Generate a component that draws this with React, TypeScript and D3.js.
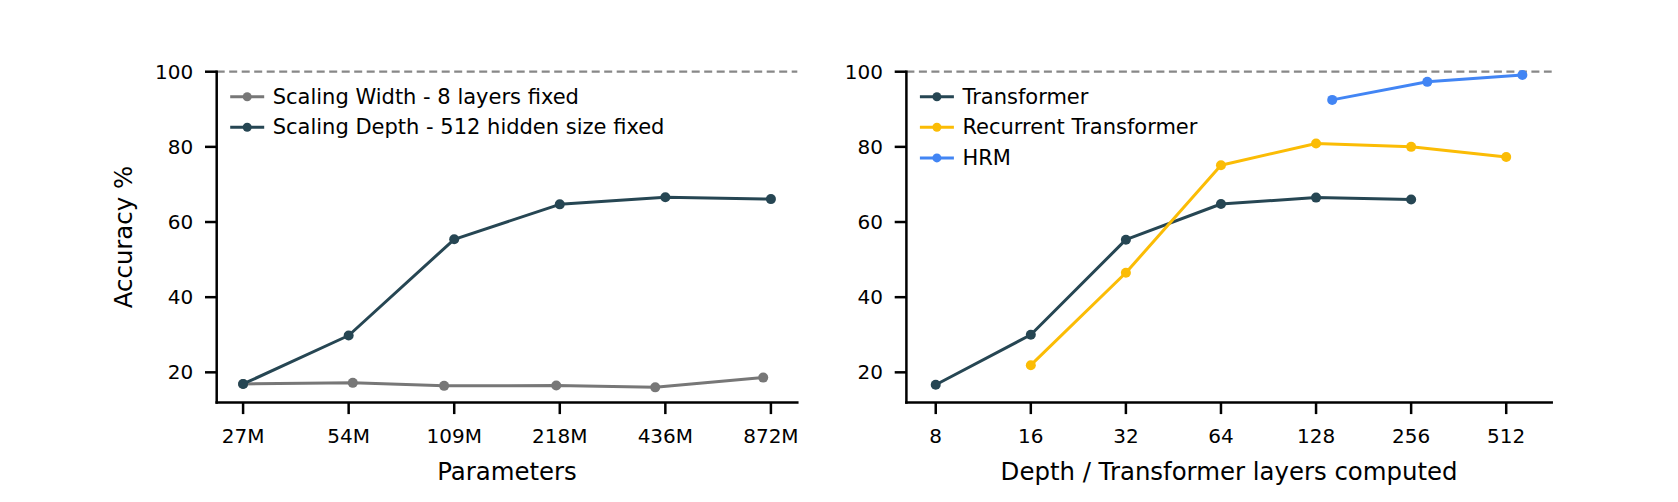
import React from "react";
import * as d3 from "d3";

// ---------- data ----------
const leftTickValues = [27.25, 54.5, 109, 218, 436, 872];
const leftTickLabels = ["27M", "54M", "109M", "218M", "436M", "872M"];

const widthParams = [27.25, 56, 102, 213, 408, 829];
const widthAcc = [16.9, 17.2, 16.4, 16.5, 16.0, 18.6];

const depthParams = [27.25, 54.5, 109, 218, 436, 872];
const depthAcc = [16.9, 29.8, 55.4, 64.7, 66.6, 66.1];

const rightTickValues = [8, 16, 32, 64, 128, 256, 512];
const rightTickLabels = ["8", "16", "32", "64", "128", "256", "512"];

const transformerLayers = [8, 16, 32, 64, 128, 256];
const transformerAcc = [16.7, 30.0, 55.3, 64.8, 66.5, 66.0];

const recurrentLayers = [16, 32, 64, 128, 256, 512];
const recurrentAcc = [21.9, 46.5, 75.1, 80.9, 80.0, 77.3];

const hrmLayers = [144, 288, 576];
const hrmAcc = [92.5, 97.3, 99.1];

const yTicks = [20, 40, 60, 80, 100];

// ---------- style ----------
const W = 1678;
const H = 502;
const FONT = "'DejaVu Sans', sans-serif";
const TICK_FS = 20;
const LEGEND_FS = 21;
const LABEL_FS = 24.4;
const C_GRAY = "#777777";
const C_DARK = "#264653";
const C_YELLOW = "#fbbc05";
const C_BLUE = "#4285f4";

const yTop = 71.7;
const yBottom = 402.4;
const yScale = d3.scaleLinear().domain([12, 100]).range([yBottom, yTop]);

type Series = { name: string; color: string; xs: number[]; ys: number[] };

function Panel(props: {
  x0: number;
  x1: number;
  xScale: d3.ScaleLogarithmic<number, number>;
  ticks: number[];
  tickLabels: string[];
  series: Series[];
  xLabel: string;
  yLabel?: string;
}) {
  const { x0, x1, xScale, ticks, tickLabels, series, xLabel, yLabel } = props;
  const tickLen = 11.7;
  const pad = 11.7;
  const line = (s: Series) =>
    d3
      .line<number>()
      .x((_, i) => xScale(s.xs[i]))
      .y((v) => yScale(v))(s.ys) || "";
  return (
    <g fontFamily={FONT}>
      {/* dashed reference at 100 */}
      <line
        x1={x0}
        x2={x1}
        y1={yScale(100)}
        y2={yScale(100)}
        stroke="#888888"
        strokeWidth={2.2}
        strokeDasharray="8,4.5"
      />
      {/* series */}
      {series.map((s) => (
        <g key={s.name}>
          <path d={line(s)} fill="none" stroke={s.color} strokeWidth={3} strokeLinejoin="round" />
          {s.ys.map((v, i) => (
            <circle key={i} cx={xScale(s.xs[i])} cy={yScale(v)} r={5} fill={s.color} />
          ))}
        </g>
      ))}
      {/* spines */}
      <line x1={x0} x2={x0} y1={yTop} y2={yBottom} stroke="#000" strokeWidth={2.5} strokeLinecap="square" />
      <line x1={x0} x2={x1} y1={yBottom} y2={yBottom} stroke="#000" strokeWidth={2.5} strokeLinecap="square" />
      {/* y ticks */}
      {yTicks.map((t) => (
        <g key={t}>
          <line x1={x0 - tickLen} x2={x0} y1={yScale(t)} y2={yScale(t)} stroke="#000" strokeWidth={2.5} />
          <text
            x={x0 - tickLen - pad}
            y={yScale(t)}
            textAnchor="end"
            dominantBaseline="central"
            fontSize={TICK_FS}
          >
            {t}
          </text>
        </g>
      ))}
      {/* x ticks */}
      {ticks.map((t, i) => (
        <g key={t}>
          <line x1={xScale(t)} x2={xScale(t)} y1={yBottom} y2={yBottom + tickLen} stroke="#000" strokeWidth={2.5} />
          <text x={xScale(t)} y={443.3} textAnchor="middle" fontSize={TICK_FS}>
            {tickLabels[i]}
          </text>
        </g>
      ))}
      {/* axis labels */}
      <text x={(x0 + x1) / 2} y={480} textAnchor="middle" fontSize={LABEL_FS}>
        {xLabel}
      </text>
      {yLabel && (
        <text
          transform={`translate(131.5, ${(yTop + yBottom) / 2}) rotate(-90)`}
          textAnchor="middle"
          fontSize={LABEL_FS}
        >
          {yLabel}
        </text>
      )}
      {/* legend */}
      {series.map((s, i) => {
        const cy = 96.7 + i * 30.6;
        const lx = x0 + 13.5;
        return (
          <g key={"lg" + s.name}>
            <line x1={lx} x2={lx + 34} y1={cy} y2={cy} stroke={s.color} strokeWidth={3} />
            <circle cx={lx + 17} cy={cy} r={4.5} fill={s.color} />
            <text x={lx + 42.5} y={cy} dominantBaseline="central" fontSize={LEGEND_FS}>
              {s.name}
            </text>
          </g>
        );
      })}
    </g>
  );
}

export default function App() {
  React.useEffect(() => {
    document.body.style.margin = "0";
  }, []);

  const lx0 = 216.7;
  const lx1 = 797.3;
  const leftX = d3
    .scaleLog()
    .base(2)
    .domain([27.25 / Math.pow(2, 0.25), 872 * Math.pow(2, 0.25)])
    .range([lx0, lx1]);

  const rx0 = 906.4;
  const rx1 = 1551.7;
  const lo = Math.log2(8);
  const hi = Math.log2(576);
  const m = (hi - lo) * 0.05;
  const rightX = d3
    .scaleLog()
    .base(2)
    .domain([Math.pow(2, lo - m), Math.pow(2, hi + m)])
    .range([rx0, rx1]);

  const leftSeries: Series[] = [
    { name: "Scaling Width - 8 layers fixed", color: C_GRAY, xs: widthParams, ys: widthAcc },
    { name: "Scaling Depth - 512 hidden size fixed", color: C_DARK, xs: depthParams, ys: depthAcc },
  ];
  const rightSeries: Series[] = [
    { name: "Transformer", color: C_DARK, xs: transformerLayers, ys: transformerAcc },
    { name: "Recurrent Transformer", color: C_YELLOW, xs: recurrentLayers, ys: recurrentAcc },
    { name: "HRM", color: C_BLUE, xs: hrmLayers, ys: hrmAcc },
  ];

  return (
    <svg
      width={W}
      height={H}
      viewBox={`0 0 ${W} ${H}`}
      style={{ position: "absolute", left: 0, top: 0, background: "#fff" }}
    >
      <rect width={W} height={H} fill="#fff" />
      <Panel
        x0={lx0}
        x1={lx1}
        xScale={leftX}
        ticks={leftTickValues}
        tickLabels={leftTickLabels}
        series={leftSeries}
        xLabel="Parameters"
        yLabel="Accuracy %"
      />
      <Panel
        x0={rx0}
        x1={rx1}
        xScale={rightX}
        ticks={rightTickValues}
        tickLabels={rightTickLabels}
        series={rightSeries}
        xLabel="Depth / Transformer layers computed"
      />
    </svg>
  );
}
